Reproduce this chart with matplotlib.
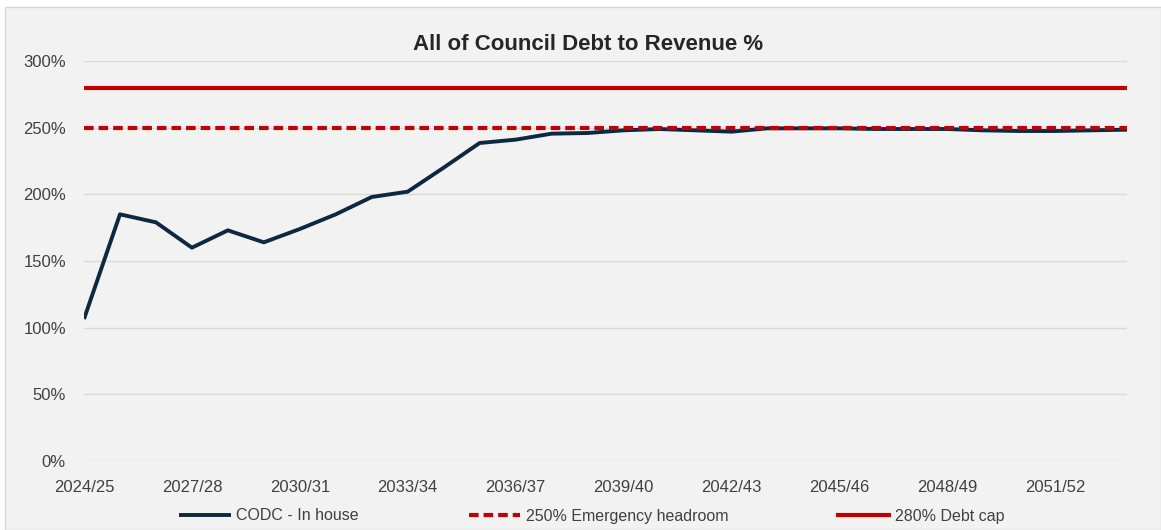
import matplotlib
matplotlib.use("Agg")
import matplotlib.pyplot as plt
from matplotlib.patches import Rectangle

years = [f"{y}/{(y + 1) % 100:02d}" for y in range(2024, 2054)]
codc_in_house = [106.5, 185, 179, 160, 173, 164, 174, 185, 198, 202,
                 220, 238.5, 241, 245.5, 246, 248, 249, 248, 247, 249.5,
                 249.5, 249.5, 249, 249, 249, 248, 247.5, 247.5, 248, 248.5]
emergency = [250] * len(years)
debt_cap = [280] * len(years)
yticks = [0, 50, 100, 150, 200, 250, 300]

W, H = 1161, 530
fig = plt.figure(figsize=(W / 100, H / 100), dpi=100)
fig.patch.set_facecolor("white")
bg = "#F2F2F2"
fig.patches.append(Rectangle((5 / W, 0), 1 - 5 / W, 1 - 7 / H, transform=fig.transFigure,
                             facecolor=bg, edgecolor="#D9D9D9", linewidth=1.0, zorder=-5))

ax = fig.add_axes([84 / W, (H - 461) / H, (1127 - 84) / W, 400 / H])
ax.set_zorder(2)
ax.set_facecolor(bg)
x = list(range(len(years)))

l1, = ax.plot(x, codc_in_house, color="#0E2841", lw=2.8, zorder=3, label="CODC - In house",
              solid_capstyle="butt")
l2, = ax.plot(x, emergency, color="#C00000", lw=3.0, ls=(0, (2.3, 1.2)), zorder=4,
              label="250% Emergency headroom")
l3, = ax.plot(x, debt_cap, color="#C00000", lw=3.0, zorder=4, label="280% Debt cap")

ax.set_xlim(0, len(years) - 1)
ax.set_ylim(0, 300)
ax.set_yticks(yticks)
ax.set_yticklabels([f"{v}%" for v in yticks])
ax.set_xticks(x[::3])
ax.set_xticklabels(years[::3])
ax.grid(axis="y", color="#D9D9D9", lw=1.0, zorder=1)
ax.grid(axis="x", visible=False)
for s in ax.spines.values():
    s.set_visible(False)
ax.tick_params(axis="both", length=0, labelsize=12, colors="#404040")
ax.tick_params(axis="y", pad=13)
ax.tick_params(axis="x", pad=14)
for t in ax.get_xticklabels() + ax.get_yticklabels():
    t.set_fontfamily("Liberation Sans")

fig.text(588 / W, 1 - 44 / H, "All of Council Debt to Revenue %", ha="center", va="center",
         fontsize=16, fontweight="bold", color="#262626", family="Liberation Sans")

leg = fig.legend(handles=[l1, l2, l3], loc="center", bbox_to_anchor=(592 / W, 1 - 516 / H),
                 ncol=3, frameon=False, handlelength=3.2, handletextpad=0.35,
                 columnspacing=6.9, prop={"family": "Liberation Sans", "size": 11.5})
for t in leg.get_texts():
    t.set_color("#404040")

fig.savefig("out.png", dpi=100, facecolor=fig.get_facecolor())
